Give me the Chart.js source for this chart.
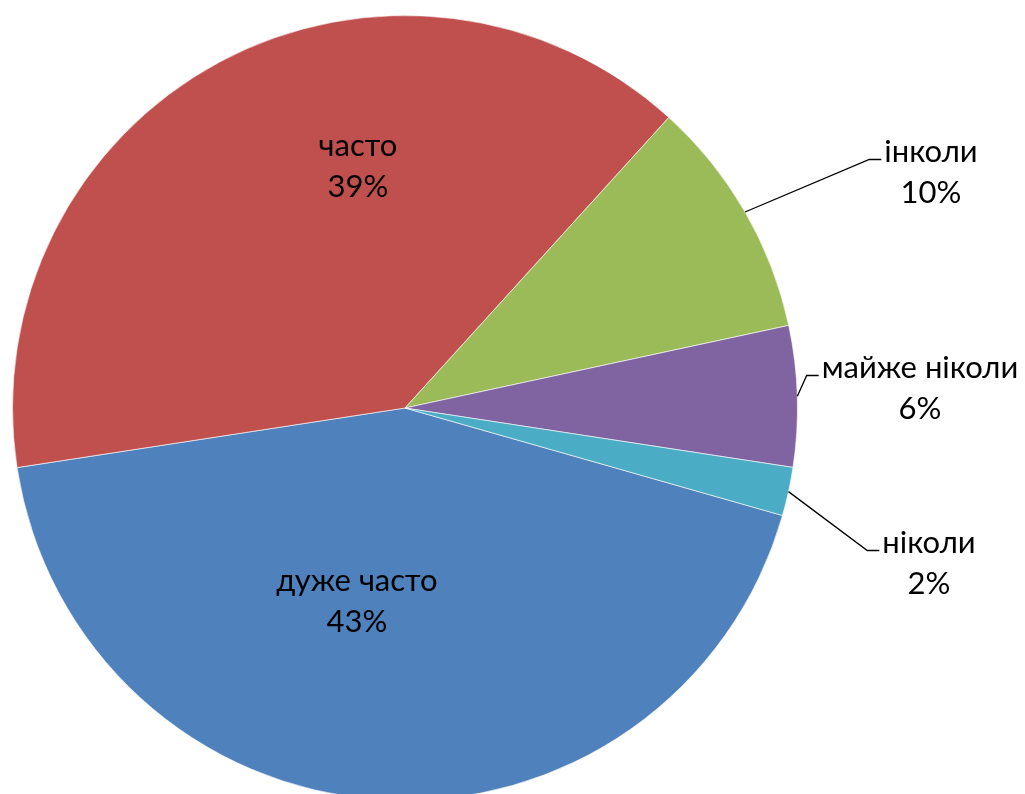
<!DOCTYPE html>
<html>
<head>
<meta charset="utf-8">
<script src="https://cdn.jsdelivr.net/npm/chart.js@4"></script>
<style>
  html, body { margin: 0; padding: 0; background: #fff; overflow: hidden; }
  #wrap { width: 1025px; height: 801px; }
</style>
</head>
<body>
<div id="wrap"><canvas id="chart"></canvas></div>
<script>
// дані діаграми
const categories = ["дуже часто", "часто", "інколи", "майже ніколи", "ніколи"];
const values = [43.2, 39.2, 9.9, 5.8, 2.0];
const colors = ["#4F81BD", "#C0504D", "#9BBB59", "#8064A2", "#4BACC6"];

// розташування підписів (зсув центру тексту від центру діаграми, px)
const labelPlace = [
  { dx: -48, dy: 193, inside: true },
  { dx: -47, dy: -242, inside: true },
  { dx: 526, dy: -236, inside: false },
  { dx: 515, dy: -20, inside: false },
  { dx: 524, dy: 155, inside: false }
];

const FONT = "31px Lato";
const LINE_H = 41;

/* плагін для підписів (як у Excel) */
const pieLabels = {
  id: "pieLabels",
  afterDatasetsDraw(chart) {
    const ctx = chart.ctx;
    const meta = chart.getDatasetMeta(0);
    const total = values.reduce((a, b) => a + b, 0);
    ctx.save();
    ctx.font = FONT;
    ctx.fillStyle = "#000";
    ctx.textAlign = "center";
    ctx.textBaseline = "middle";
    meta.data.forEach(function(arc, i) {
      const p = labelPlace[i];
      const cx = arc.x + p.dx;
      const cy = arc.y + p.dy;
      const pct = Math.round(values[i] / total * 100) + "%";
      ctx.fillText(categories[i], cx, cy - LINE_H / 2);
      ctx.fillText(pct, cx, cy + LINE_H / 2);
      if (!p.inside) {
        // лінія-виноска
        const mid = (arc.startAngle + arc.endAngle) / 2;
        const sx = arc.x + Math.cos(mid) * arc.outerRadius;
        const sy = arc.y + Math.sin(mid) * arc.outerRadius;
        const w = ctx.measureText(categories[i]).width;
        const ex = cx - w / 2 - 3;
        const ey = cy - LINE_H / 2 + 8;
        ctx.beginPath();
        ctx.strokeStyle = "#000";
        ctx.lineWidth = 1.3;
        ctx.moveTo(sx, sy);
        ctx.lineTo(ex - 12, ey);
        ctx.lineTo(ex, ey);
        ctx.stroke();
      }
    });
    ctx.restore();
  }
};

const config = {
  type: "pie",
  data: {
    labels: categories,
    datasets: [{
      data: values,
      backgroundColor: colors,
      borderColor: "rgba(255,255,255,0.6)",
      borderWidth: 1
    }]
  },
  options: {
    responsive: true,
    maintainAspectRatio: false,
    animation: false,
    rotation: 105.9,
    layout: { padding: { left: 12, right: 227, top: 15, bottom: 0 } },
    plugins: {
      legend: { display: false },
      tooltip: { enabled: false },
      title: { display: false }
    }
  },
  plugins: [pieLabels]
};

const myChart = new Chart(document.getElementById("chart"), config);
</script>
</body>
</html>
